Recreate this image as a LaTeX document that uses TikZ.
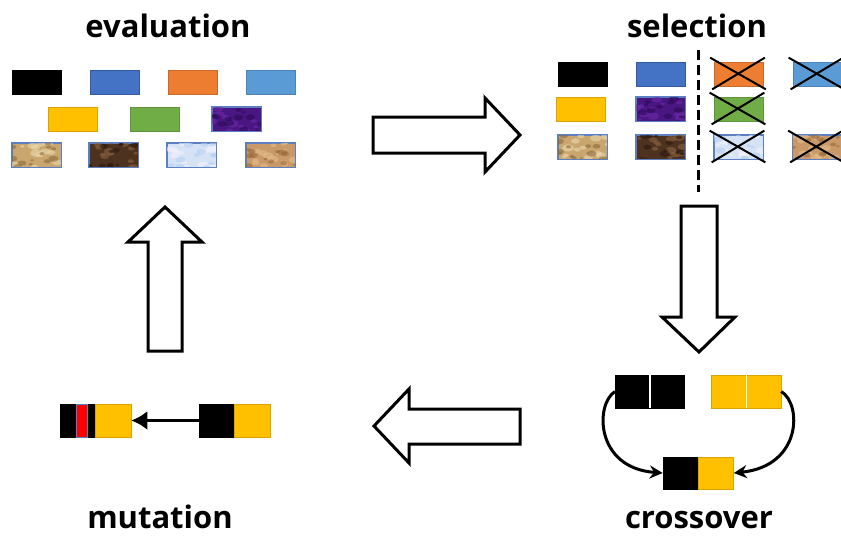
\documentclass[tikz,border=0pt]{standalone}
\usepackage{fontspec}
\setmainfont{Open Sans}
\usetikzlibrary{arrows.meta}

\definecolor{gblack}{HTML}{000000}
\definecolor{gblue}{HTML}{4472C4}
\definecolor{gorange}{HTML}{ED7D31}
\definecolor{glblue}{HTML}{5B9BD5}
\definecolor{gyellow}{HTML}{FFC000}
\definecolor{ggreen}{HTML}{70AD47}
\definecolor{gpurple}{HTML}{4A1682}
\definecolor{tanbase}{HTML}{C8A66E}
\definecolor{tanlight}{HTML}{EBD9AE}
\definecolor{tandark}{HTML}{8C6B3C}
\definecolor{brbase}{HTML}{4E3220}
\definecolor{brlight}{HTML}{8A6240}
\definecolor{brdark}{HTML}{2A180E}
\definecolor{icebase}{HTML}{D6E2F6}
\definecolor{icelight}{HTML}{F4F2FB}
\definecolor{icedark}{HTML}{B4D0F0}
\definecolor{sandbase}{HTML}{C99A68}
\definecolor{sandlight}{HTML}{E4BC8C}
\definecolor{sanddark}{HTML}{9A683C}
\definecolor{purlight}{HTML}{6A2AA8}
\definecolor{purdark}{HTML}{2C0A58}
\definecolor{edgeblue}{HTML}{5B7FC0}

\tikzset{
  gene/.style={draw, line width=0.7pt, minimum width=49pt, minimum height=24pt, inner sep=0pt},
  seg/.style={draw=#1!85!black, fill=#1, line width=0.5pt, minimum width=35pt, minimum height=33pt, inner sep=0pt},
  bigarrow/.style={draw=black, line width=3pt, line join=miter, fill=white},
  xline/.style={line width=2pt, black},
  cutline/.style={line width=3pt, dash pattern=on 10pt off 5pt},
  curvearrow/.style={line width=3pt, -{Stealth[length=13pt, width=13pt]}},
  shortarrow/.style={line width=3pt, -{Latex[length=16pt, width=19pt]}},
  title/.style={font=\fontsize{31}{36}\selectfont\bfseries, anchor=base, inner sep=0pt},
}

% speckle a texture into a box: node, colour, count, radius
\newcommand\speckle[4]{%
  \begin{scope}
    \clip (#1.south west) rectangle (#1.north east);
    \foreach \k in {1,...,#3}{
      \pgfmathsetmacro\rx{rnd*50}
      \pgfmathsetmacro\ry{rnd*25}
      \pgfmathsetmacro\rr{#4*(0.5+rnd)}
      \pgfmathsetmacro\rq{0.6*\rr}
      \fill[#2, opacity=0.6] ([xshift=\rx pt, yshift=\ry pt]#1.south west)
        ellipse[x radius=\rr pt, y radius=\rq pt];
    }
  \end{scope}
  \draw[edgeblue, line width=0.9pt] (#1.south west) rectangle (#1.north east);
}
% texture box: node, base, light, dark
\newcommand\texbox[4]{%
  \speckle{#1}{#3}{14}{4}\speckle{#1}{#4}{12}{3.5}}

\begin{document}
\begin{tikzpicture}[x=1pt, y=-1pt]
\pgfmathsetseed{4242}
\useasboundingbox (0,0) rectangle (841,536);

% ---------- titles ----------
\node[title] (tEval) at (168,37) {evaluation};
\node[title] (tSel)  at (697,37) {selection};
\node[title] (tMut)  at (160,528) {mutation};
\node[title] (tCro)  at (699,528) {crossover};

% ---------- evaluation: the population ----------
\node[gene, fill=black, draw=black] (e1) at (36.5,82.5) {};
\node[gene, fill=gblue, draw=gblue!80!black] (e2) at (114.5,82.5) {};
\node[gene, fill=gorange, draw=gorange!85!black] (e3) at (192.5,82.5) {};
\node[gene, fill=glblue, draw=glblue!85!black] (e4) at (271,82.5) {};
\node[gene, fill=gyellow, draw=gyellow!85!black] (e5) at (73,119) {};
\node[gene, fill=ggreen, draw=ggreen!85!black] (e6) at (154.5,119) {};
\node[gene, fill=gpurple, draw=edgeblue] (e7) at (236.5,119) {};
\node[gene, fill=tanbase, draw=edgeblue] (e8) at (36.5,155) {};
\node[gene, fill=brbase, draw=edgeblue] (e9) at (113.5,155) {};
\node[gene, fill=icebase, draw=edgeblue] (e10) at (191.5,155) {};
\node[gene, fill=sandbase, draw=edgeblue] (e11) at (270.5,155) {};
\texbox{e7}{gpurple}{purlight}{purdark}
\texbox{e8}{tanbase}{tanlight}{tandark}
\texbox{e9}{brbase}{brlight}{brdark}
\texbox{e10}{icebase}{icelight}{icedark}
\texbox{e11}{sandbase}{sandlight}{sanddark}

% ---------- selection: survivors and rejected ----------
\node[gene, fill=black, draw=black] (s1) at (582.5,74) {};
\node[gene, fill=gblue, draw=gblue!80!black] (s2) at (661,74) {};
\node[gene, fill=gorange, draw=gorange!85!black] (s3) at (739,74) {};
\node[gene, fill=glblue, draw=glblue!85!black] (s4) at (817.5,74) {};
\node[gene, fill=gyellow, draw=gyellow!85!black] (s5) at (581,109) {};
\node[gene, fill=gpurple, draw=edgeblue] (s6) at (660.5,109) {};
\node[gene, fill=ggreen, draw=ggreen!85!black] (s7) at (738.5,109) {};
\node[gene, fill=tanbase, draw=edgeblue] (s8) at (582.5,147) {};
\node[gene, fill=brbase, draw=edgeblue] (s9) at (660.5,147) {};
\node[gene, fill=icebase, draw=edgeblue] (s10) at (738.5,147) {};
\node[gene, fill=sandbase, draw=edgeblue] (s11) at (817,147) {};
\texbox{s6}{gpurple}{purlight}{purdark}
\texbox{s8}{tanbase}{tanlight}{tandark}
\texbox{s9}{brbase}{brlight}{brdark}
\texbox{s10}{icebase}{icelight}{icedark}
\texbox{s11}{sandbase}{sandlight}{sanddark}

% rejected individuals are crossed out
\foreach \n in {s3,s4,s7,s10,s11}{
  \draw[xline] ([shift={(-4pt,4pt)}]\n.north west) -- ([shift={(2pt,-3pt)}]\n.south east);
  \draw[xline] ([shift={(1pt,4pt)}]\n.north east) -- ([shift={(-2pt,-3pt)}]\n.south west);
}

% selection threshold
\coordinate (cutTop) at (698,50);
\coordinate (cutBot) at (698,192);
\draw[cutline] (cutTop) -- (cutBot);

% ---------- crossover ----------
\node[seg=black, minimum width=34.5pt] (pa1) at (632.5,391.5) {};
\node[seg=black, minimum width=34.5pt] (pa2) at (667,391.5) {};
\node[seg=gyellow, minimum width=35pt] (pb1) at (728.5,391.5) {};
\node[seg=gyellow, minimum width=35pt] (pb2) at (763.5,391.5) {};
\draw[white, line width=1.2pt] (pa1.north east) -- (pa1.south east);
\draw[white, line width=1.2pt] (pb1.north east) -- (pb1.south east);
\node[seg=black, minimum height=32pt] (ch1) at (680.5,473) {};
\node[seg=gyellow, minimum height=32pt] (ch2) at (716,473) {};

\draw[curvearrow] (pa1.west) .. controls (595,404) and (595,468) .. (ch1.west);
\draw[curvearrow] (pb2.east) .. controls (802,404) and (802,466) .. (ch2.east);

% ---------- mutation ----------
\node[seg=black] (m1a) at (77.5,420.5) {};
\node[draw=edgeblue, fill=red, line width=0.8pt, minimum width=11pt, minimum height=33pt, inner sep=0pt] (m1r) at (81.5,420.5) {};
\node[seg=gyellow, minimum width=36pt] (m1b) at (113,420.5) {};
\node[seg=black] (m2a) at (216.5,420.5) {};
\node[seg=gyellow, minimum width=36pt] (m2b) at (252,420.5) {};
\draw[shortarrow] (m2a.west) -- (m1b.east);

% ---------- cycle arrows ----------
\draw[bigarrow] (373,117) -- (485,117) -- (485,98) -- (520,135) -- (485,172)
  -- (485,153) -- (373,153) -- cycle;
\draw[bigarrow] (681,206) -- (717,206) -- (717,317) -- (735,317) -- (699,352)
  -- (662,317) -- (681,317) -- cycle;
\draw[bigarrow] (520,409) -- (409,409) -- (409,389) -- (374,426) -- (409,463)
  -- (409,444) -- (520,444) -- cycle;
\draw[bigarrow] (148,351) -- (148,242) -- (128,242) -- (165,207) -- (202,242)
  -- (182,242) -- (182,351) -- cycle;
\end{tikzpicture}
\end{document}
